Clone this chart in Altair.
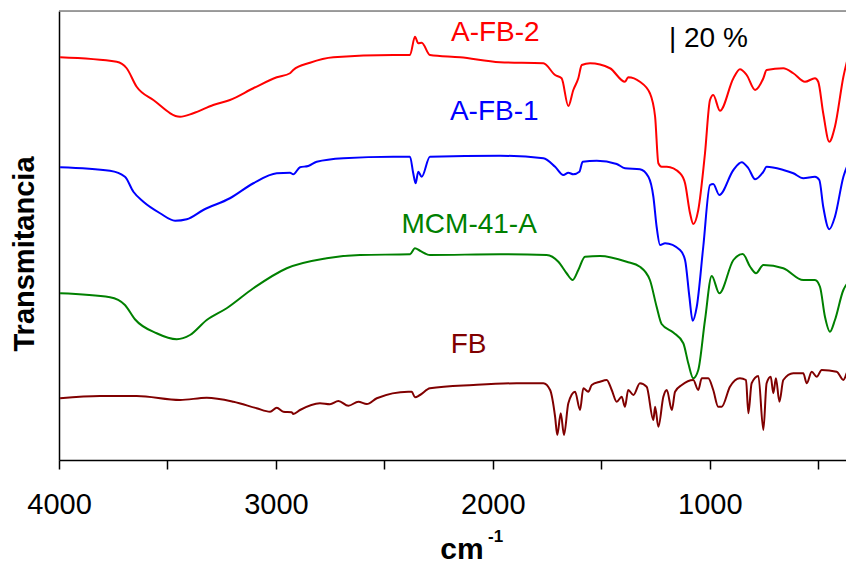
import altair as alt
import pandas as pd

# ---- data (wavenumber in cm-1, offset transmittance in %) ----
afb2_wn = [3995, 3734, 3688, 3642, 3565, 3442, 3381, 3289, 3212, 3104, 2996, 2935, 2920, 2843, 2735,
           2459, 2382, 2359, 2344, 2328, 2290, 2151, 1967, 1767, 1713, 1683, 1652, 1629, 1606, 1590,
           1552, 1460, 1391, 1376, 1322, 1276, 1252, 1237, 1222, 1198, 1137, 1114, 1091, 1076, 1053,
           1022, 999, 984, 953, 891, 861, 830, 791, 753, 738, 661, 615, 561, 515, 500, 477, 449, 423,
           384, 336]
afb2_t = [322.2, 318.6, 313.4, 298.6, 288.0, 274.6, 277.4, 284.0, 288.0, 297.4, 306.2, 309.4, 312.0, 317.8, 322.2,
          324.0, 324.0, 338.6, 333.4, 333.8, 324.0, 322.2, 318.2, 317.4, 308.0, 305.4, 283.2, 296.0, 305.4, 316.0,
          317.4, 313.4, 302.6, 306.2, 302.6, 293.4, 274.6, 237.4, 234.6, 234.6, 229.4, 221.4, 197.4, 188.8, 200.0,
          245.4, 288.0, 292.0, 279.4, 305.4, 312.6, 308.0, 296.0, 305.4, 312.0, 313.4, 309.4, 302.6, 305.4, 302.6,
          277.4, 254.6, 266.6, 306.6, 337.4]

afb1_wn = [3995, 3765, 3696, 3657, 3611, 3534, 3465, 3411, 3335, 3212, 3104, 2996, 2935, 2920, 2889, 2851,
           2812, 2689, 2459, 2382, 2367, 2356, 2344, 2328, 2290, 1967, 1767, 1713, 1675, 1652, 1629, 1601,
           1586, 1521, 1429, 1391, 1322, 1283, 1260, 1245, 1229, 1206, 1137, 1114, 1094, 1079, 1060, 1030,
           999, 984, 956, 891, 853, 822, 791, 753, 738, 661, 615, 569, 515, 495, 477, 449, 423, 384, 336]
afb1_t = [234.2, 231.4, 226.6, 214.6, 206.6, 197.4, 191.4, 192.6, 200.0, 209.4, 221.4, 229.4, 229.8, 228.6, 234.2, 235.2,
          238.6, 241.4, 242.6, 242.6, 229.4, 221.4, 230.6, 226.6, 242.6, 243.4, 241.4, 234.6, 228.0, 229.8, 228.6, 230.6,
          238.6, 239.4, 236.8, 233.4, 232.6, 226.6, 210.6, 186.6, 172.0, 173.4, 168.0, 160.0, 130.6, 111.4, 122.6, 170.6,
          220.0, 220.8, 212.0, 232.0, 238.2, 233.4, 224.6, 230.6, 234.6, 232.0, 229.4, 225.4, 226.6, 224.0, 202.6, 184.6,
          194.6, 226.6, 244.0]

mcm_wn = [3995, 3765, 3696, 3650, 3550, 3457, 3396, 3319, 3227, 3104, 2950, 2766, 2612, 2382, 2359, 2336,
          2290, 1967, 1752, 1698, 1660, 1632, 1606, 1575, 1506, 1383, 1322, 1276, 1245, 1222, 1168, 1122,
          1099, 1076, 1053, 1022, 991, 956, 891, 848, 814, 787, 753, 661, 569, 515, 492, 469, 446, 423,
          384, 336]
mcm_t = [133.4, 130.2, 124.0, 112.6, 101.4, 96.6, 100.0, 112.0, 121.4, 137.4, 153.4, 161.4, 164.0, 164.6, 169.4, 167.4,
         164.0, 164.6, 164.0, 158.6, 149.4, 144.0, 152.0, 162.6, 163.2, 158.6, 154.6, 144.0, 122.6, 108.8, 102.0, 93.4,
         77.4, 65.4, 72.0, 112.0, 147.2, 133.4, 160.0, 164.8, 154.6, 149.4, 156.0, 153.4, 144.0, 144.0, 138.6, 114.6,
         102.6, 112.0, 136.0, 145.4]

fb_wn = [3995, 3811, 3642, 3442, 3319, 3196, 3089, 3027, 2996, 2966, 2927, 2920, 2889, 2797, 2751, 2712,
         2666, 2620, 2581, 2535, 2390, 2374, 2359, 2336, 2290, 2090, 1890, 1767, 1736, 1713, 1703, 1687,
         1672, 1652, 1621, 1598, 1583, 1560, 1544, 1506, 1475, 1452, 1429, 1406, 1391, 1376, 1352, 1322,
         1291, 1260, 1252, 1237, 1214, 1198, 1175, 1160, 1129, 1076, 1053, 1037, 1007, 984, 961, 945,
         907, 861, 833, 822, 807, 776, 753, 738, 719, 707, 695, 679, 661, 615, 569, 553, 530, 507,
         484, 415, 384, 361, 336]
fb_t = [49.4, 51.2, 51.2, 48.0, 49.8, 46.6, 41.4, 38.6, 41.8, 38.6, 38.2, 36.8, 40.0, 45.4, 44.6, 47.2,
        43.4, 46.6, 44.8, 49.4, 54.6, 54.6, 50.2, 52.0, 57.4, 60.0, 61.4, 61.4, 56.0, 34.6, 20.0, 37.4,
        20.0, 45.4, 54.6, 40.0, 57.4, 54.6, 60.0, 62.6, 64.0, 56.0, 46.6, 50.6, 42.6, 56.0, 52.0, 61.4,
        58.6, 32.0, 42.6, 26.6, 50.6, 56.0, 40.0, 54.6, 60.0, 64.0, 56.0, 65.4, 65.4, 56.0, 42.6, 42.6,
        58.6, 65.4, 64.0, 37.4, 61.4, 67.2, 24.0, 61.4, 66.6, 53.4, 65.4, 46.6, 64.0, 69.4, 69.4, 61.4, 70.6, 66.6,
        72.0, 70.6, 64.0, 72.0, 73.4]

series_names = ["A-FB-2", "A-FB-1", "MCM-41-A", "FB"]
series_colors = ["#FF0000", "#0000FF", "#008000", "#800000"]

label_text = ["A-FB-2", "A-FB-1", "MCM-41-A", "FB", "| 20 %"]
label_wn = [2193, 2198, 2421, 2194, 1188]
label_t = [335.2, 272.0, 181.6, 85.4, 330.6]
label_color = ["#FF0000", "#0000FF", "#008000", "#800000", "#000000"]

x_ticks = [4000, 3500, 3000, 2500, 2000, 1500, 1000, 500]

# ---- build tables ----
rows = []
for name, wn, t in zip(series_names,
                       [afb2_wn, afb1_wn, mcm_wn, fb_wn],
                       [afb2_t, afb1_t, mcm_t, fb_t]):
    for w, v in zip(wn, t):
        rows.append({"serie": name, "wn": w, "t": v})
df = pd.DataFrame(rows)
lab = pd.DataFrame({"text": label_text, "wn": label_wn, "t": label_t, "c": label_color})

FONT = "Liberation Sans"
xscale = alt.Scale(domain=[4000, 372], nice=False, zero=False)
yscale = alt.Scale(domain=[0, 359.2], nice=False, zero=False)

lines = alt.Chart(df).mark_line(strokeWidth=2, clip=True, interpolate="monotone").encode(
    x=alt.X("wn:Q", scale=xscale,
            axis=alt.Axis(values=x_ticks, format="d",
                          labelExpr="datum.value % 1000 === 0 ? datum.label : ''",
                          grid=False, tickSize=9, tickWidth=1.5, tickColor="black",
                          domainColor="black", domainWidth=1.5,
                          labelFont=FONT, labelFontSize=29, labelColor="black",
                          labelBaseline="alphabetic", labelPadding=44,
                          labelFlush=False, labelOverlap=False,
                          title="cm", titleFont=FONT, titleFontSize=30, titleFontWeight="bold",
                          titleColor="black", titleX=402.5, titleY=98,
                          titleAlign="center", titleBaseline="alphabetic")),
    y=alt.Y("t:Q", scale=yscale,
            axis=alt.Axis(labels=False, ticks=False, grid=False,
                          domainColor="black", domainWidth=1.5,
                          title="Transmitancia", titleFont=FONT, titleFontSize=29,
                          titleFontWeight="bold", titleColor="black", titleAngle=270,
                          titleX=-26, titleY=242.5, titleAlign="center",
                          titleBaseline="alphabetic")),
    color=alt.Color("serie:N", scale=alt.Scale(domain=series_names, range=series_colors), legend=None),
    order="wn:Q",
    detail="serie:N",
)

labels = alt.Chart(lab).mark_text(font=FONT, fontSize=28, align="left", baseline="alphabetic").encode(
    x="wn:Q", y="t:Q", text="text:N",
    color=alt.Color("c:N", scale=None),
)

top_border = alt.Chart(pd.DataFrame({"a": [0]})).mark_rule(color="#808080", strokeWidth=1.5).encode(
    x=alt.value(0), x2=alt.value(790), y=alt.value(0)
)

sup = alt.Chart(pd.DataFrame({"s": ["-1"]})).mark_text(
    font=FONT, fontSize=17, fontWeight="bold", align="left", baseline="alphabetic", color="black"
).encode(x=alt.value(429), y=alt.value(531), text="s:N")

chart = alt.layer(lines, labels, top_border, sup).properties(
    width=787, height=449,
    autosize=alt.AutoSizeParams(type="none"),
    padding={"left": 51, "top": 3, "right": 0, "bottom": 105},
).configure_view(stroke=None).configure(background="white")

chart.save("out.html", embed_options={"renderer": "svg", "actions": False})
